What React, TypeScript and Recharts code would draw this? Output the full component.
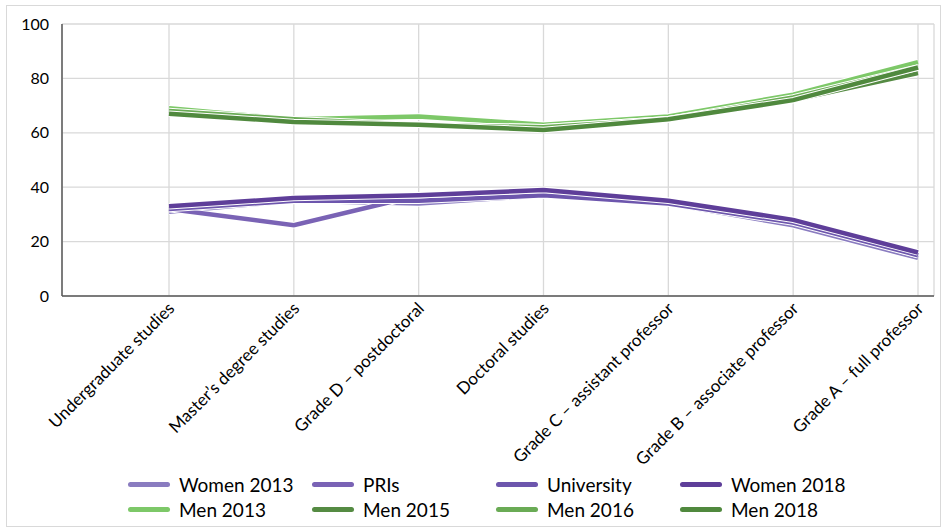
import React from 'react';
import { LineChart, Line, XAxis, YAxis, CartesianGrid } from 'recharts';

const categories = [
  'Undergraduate studies',
  'Master’s degree studies',
  'Grade D – postdoctoral',
  'Doctoral studies',
  'Grade C – assistant professor',
  'Grade B – associate professor',
  'Grade A – full professor',
];

const women2013 = [31, 35, 34, 37, 34, 26, 14];
const pris = [32, 26, 37, 39, 35, 28, 15];
const university = [32, 35, 35, 37, 34, 27, 15];
const women2018 = [33, 36, 37, 39, 35, 28, 16];
const men2013 = [69, 65, 66, 63, 66, 74, 86];
const men2015 = [67, 64, 63, 62, 65, 72, 82];
const men2016 = [68, 65, 63, 62, 65, 73, 84];
const men2018 = [67, 64, 63, 61, 65, 72, 84];

const yTicks = [0, 20, 40, 60, 80, 100];

const series = [
  { key: 'women2013', name: 'Women 2013', color: '#8a7cc0', values: women2013 },
  { key: 'pris', name: 'PRIs', color: '#7a63b5', values: pris },
  { key: 'university', name: 'University', color: '#6d56ad', values: university },
  { key: 'women2018', name: 'Women 2018', color: '#5e3e99', values: women2018 },
  { key: 'men2013', name: 'Men 2013', color: '#7dc868', values: men2013 },
  { key: 'men2015', name: 'Men 2015', color: '#558b43', values: men2015 },
  { key: 'men2016', name: 'Men 2016', color: '#6aab55', values: men2016 },
  { key: 'men2018', name: 'Men 2018', color: '#50893e', values: men2018 },
];

const data = categories.map((category, i) => {
  const row: Record<string, string | number> = { category };
  series.forEach((s) => {
    row[s.key] = s.values[i];
  });
  return row;
});

const FONT = 'Lato, "Open Sans", sans-serif';

function CategoryTick(props: any) {
  const { x, y, payload } = props;
  return (
    <g transform={`translate(${x + 3},${y + 2})`}>
      <text
        textAnchor="end"
        transform="rotate(-45)"
        dy={5}
        fill="#000"
        fontSize={17}
        fontFamily={FONT}
      >
        {payload.value}
      </text>
    </g>
  );
}

export default function App() {
  return (
    <div
      style={{
        position: 'absolute',
        left: 0,
        top: 0,
        width: 948,
        height: 531,
        background: '#fff',
        fontFamily: FONT,
      }}
    >
      <div
        style={{
          position: 'absolute',
          left: 6,
          top: 5,
          width: 933,
          height: 520,
          border: '1px solid #d9d9d9',
        }}
      />
      <div style={{ position: 'absolute', left: 0, top: 0 }}>
        <LineChart
          width={948}
          height={531}
          data={data}
          margin={{ top: 24, right: 14, left: 12, bottom: 35 }}
        >
          <CartesianGrid stroke="#d9d9d9" strokeWidth={1.3} />
          <XAxis
            dataKey="category"
            interval={0}
            height={200}
            padding={{ left: 107, right: 16 }}
            axisLine={{ stroke: '#595959', strokeWidth: 1.5 }}
            tickLine={false}
            tick={<CategoryTick />}
          />
          <YAxis
            domain={[0, 100]}
            ticks={yTicks}
            width={50}
            axisLine={{ stroke: '#595959', strokeWidth: 1.5 }}
            tickLine={false}
            tickSize={6}
            tickMargin={7}
            tick={{ fill: '#000', fontSize: 16, fontFamily: FONT }}
          />
          {series.flatMap((s) => [
            <Line
              key={`${s.key}-edge`}
              dataKey={s.key}
              stroke="#fff"
              strokeWidth={6.5}
              dot={false}
              activeDot={false}
              legendType="none"
              isAnimationActive={false}
            />,
            <Line
              key={s.key}
              dataKey={s.key}
              name={s.name}
              stroke={s.color}
              strokeWidth={4.5}
              dot={false}
              isAnimationActive={false}
            />,
          ])}
        </LineChart>
      </div>
      <div
        style={{
          position: 'absolute',
          left: 128,
          top: 472,
          display: 'grid',
          gridTemplateColumns: 'repeat(4, 184px)',
          rowGap: 1,
          fontSize: 19,
          color: '#000',
        }}
      >
        {series.map((s) => (
          <div key={s.key} style={{ display: 'flex', alignItems: 'center', height: 24 }}>
            <span
              style={{
                display: 'inline-block',
                width: 42,
                height: 5,
                borderRadius: 3,
                background: s.color,
                marginRight: 9,
              }}
            />
            <span>{s.name}</span>
          </div>
        ))}
      </div>
    </div>
  );
}
